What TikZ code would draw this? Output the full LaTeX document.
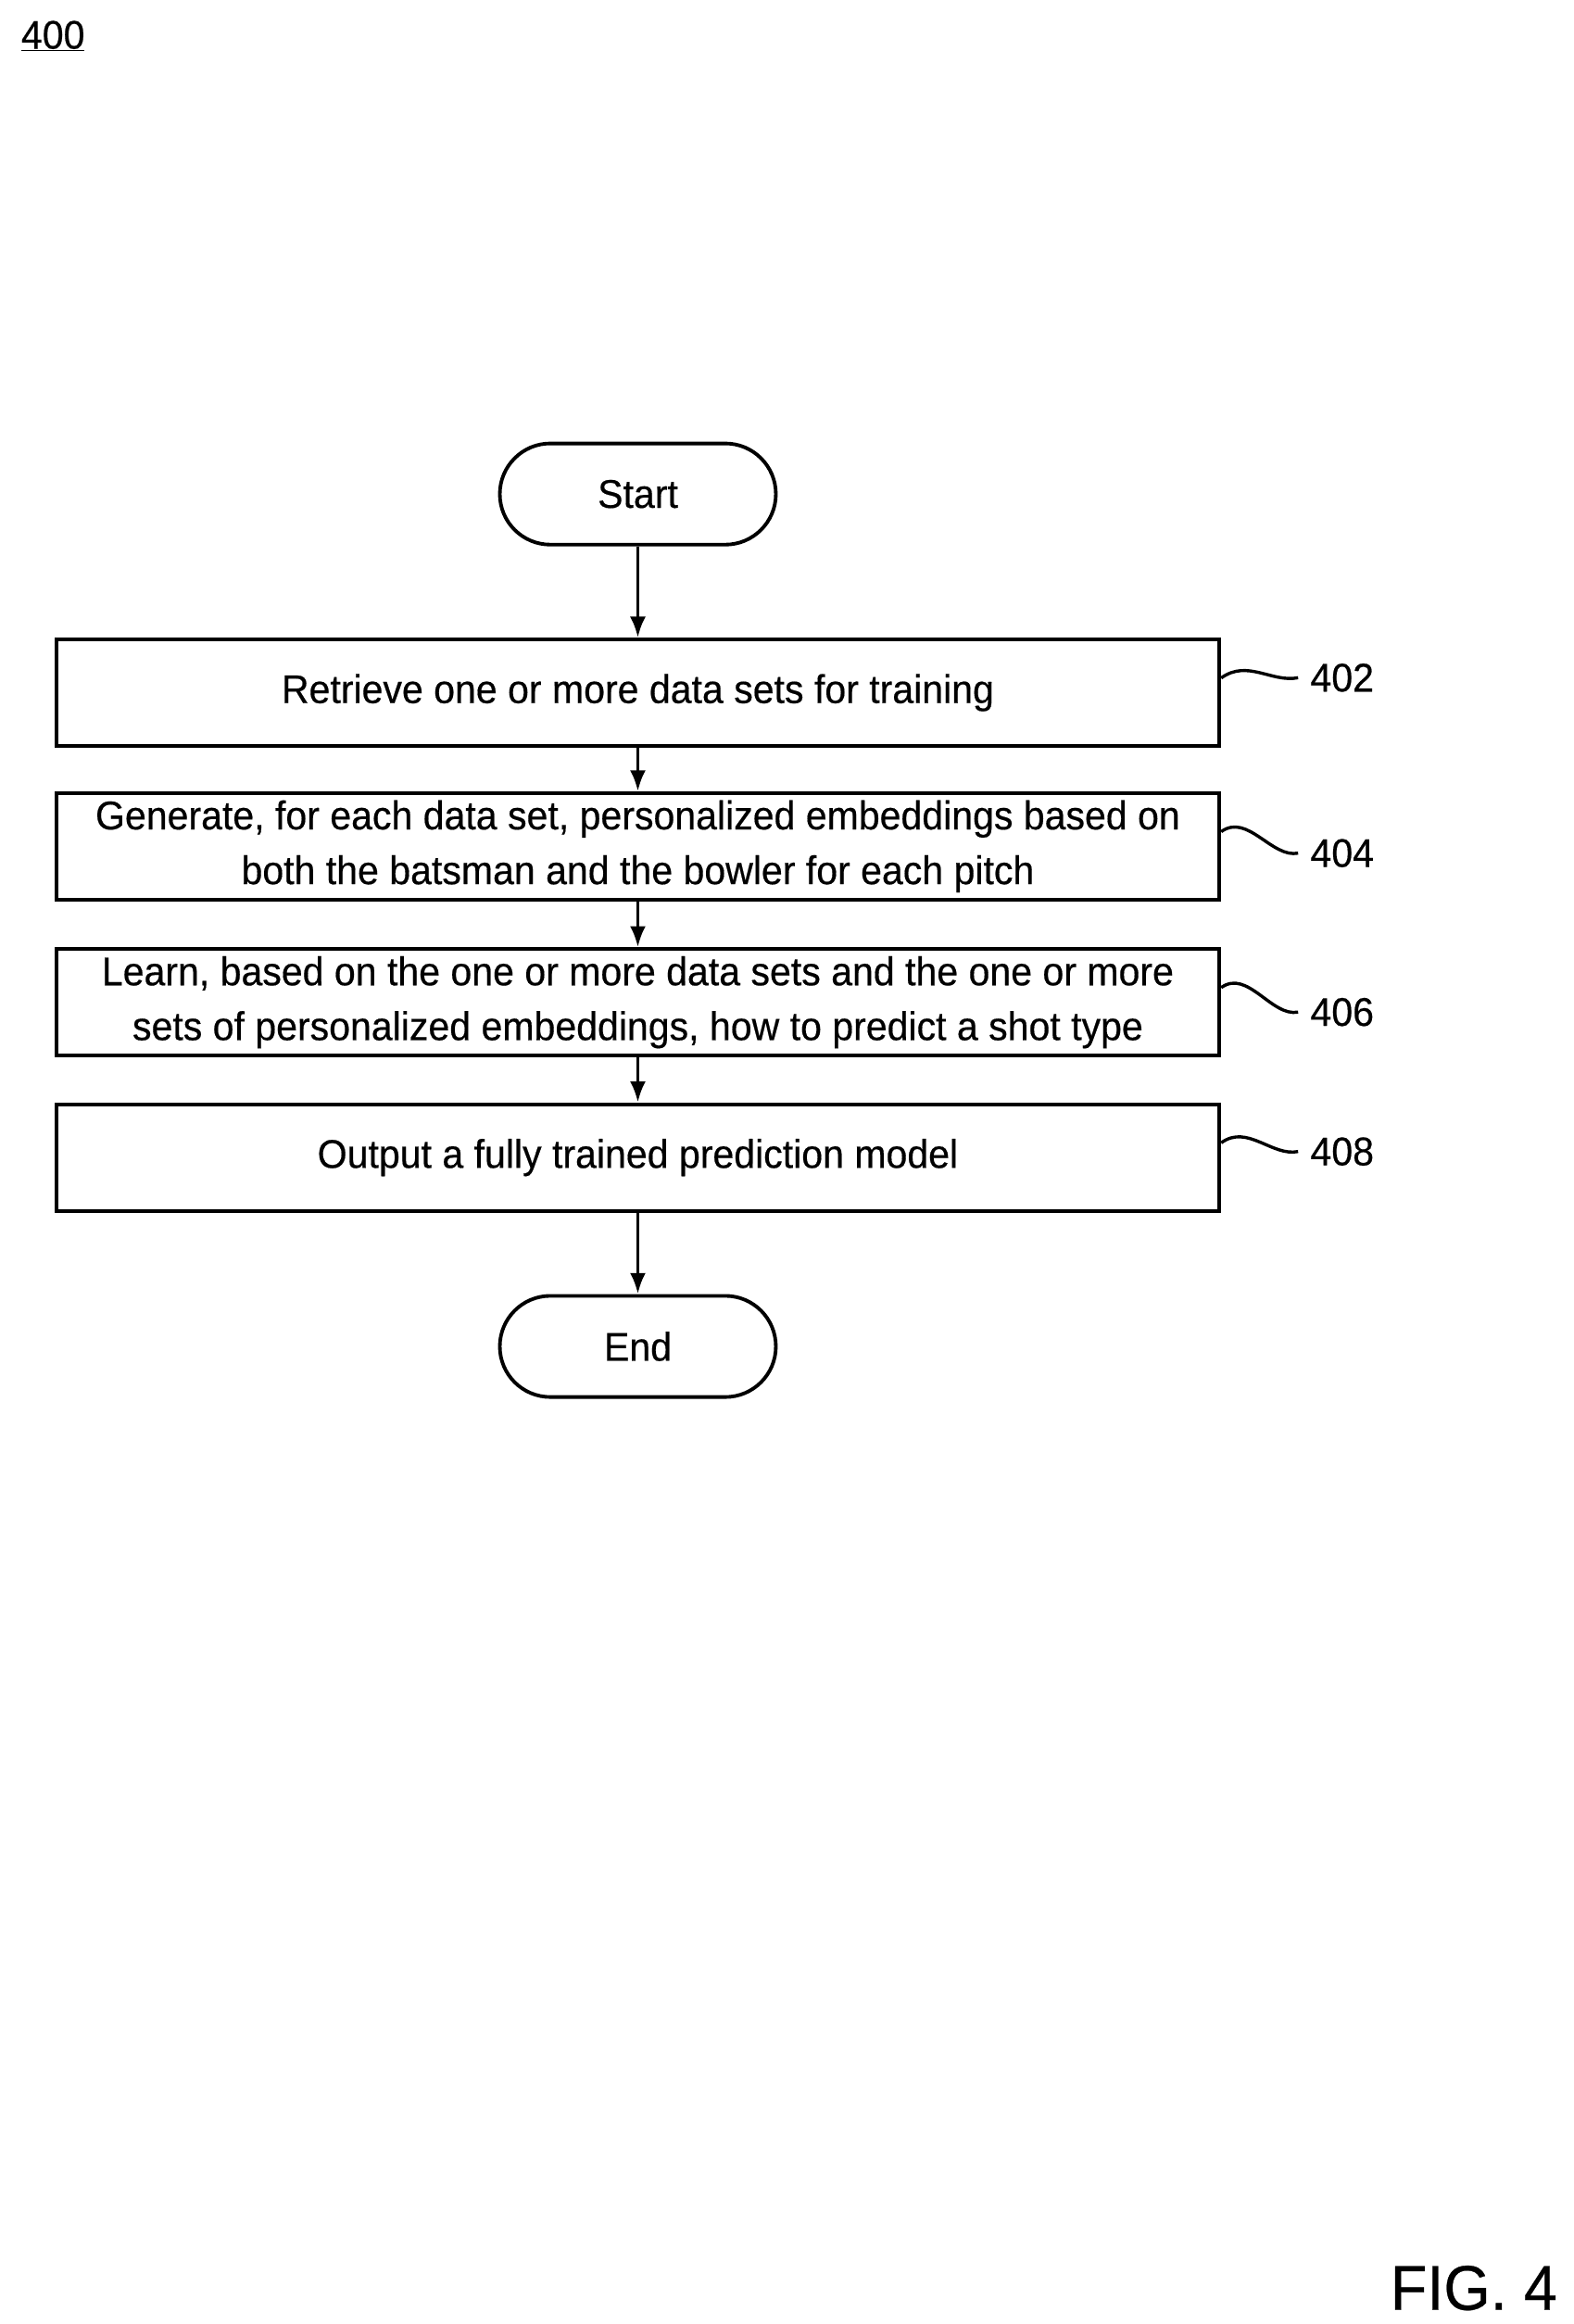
\documentclass[tikz,border=0pt]{standalone}
\usepackage{fontspec}
\setmainfont{Liberation Sans}[FakeStretch=0.95,FakeBold=0.4]
\usetikzlibrary{positioning,arrows.meta}
\begin{document}
\begin{tikzpicture}[x=0.05cm,y=-0.05cm,line width=3.4pt,
    every node/.style={font=\fontsize{38}{52}\selectfont},
    stepbox/.style={draw,minimum width=1104pt,minimum height=101pt,align=center,inner sep=0pt},
    term/.style={draw,rounded corners=48pt,minimum width=262pt,minimum height=96pt},
    flow/.style={-{Latex[length=20pt,width=15pt]}},
    ref/.style={anchor=west,inner sep=0pt}]
\useasboundingbox (0,0) rectangle (1050,1550);
\node[anchor=west,inner sep=0pt] (fignum) at (13,24) {\underline{400}};
\node[term] (start) at (425.5,329.5) {Start};
\node[stepbox] (s1) at (425.5,462) {Retrieve one or more data sets for training};
\node[stepbox] (s2) at (425.5,564.5) {Generate, for each data set, personalized embeddings based on\\both the batsman and the bowler for each pitch};
\node[stepbox] (s3) at (425.5,668.5) {Learn, based on the one or more data sets and the one or more\\sets of personalized embeddings, how to predict a shot type};
\node[stepbox] (s4) at (425.5,772) {Output a fully trained prediction model};
\node[term] (end) at (425.5,898) {End};
\node[anchor=east,inner sep=0pt,font=\fontsize{60}{66}\selectfont] (fig) at (1040,1526) {FIG. 4};

\draw[flow] (start) -- (s1);
\draw[flow] (s1) -- (s2);
\draw[flow] (s2) -- (s3);
\draw[flow] (s3) -- (s4);
\draw[flow] (s4) -- (end);

% step labels
\foreach \s/\n/\y in {s1/402/452, s2/404/569, s3/406/675, s4/408/768}{
  \node[ref] (l\n) at (873,\y) {\n};
  \draw[line width=3pt] ([yshift=14pt]\s.east) .. controls +(25pt,18pt) and +(-25pt,-5pt) .. ([xshift=-10pt]l\n.west);
}
\end{tikzpicture}
\end{document}
